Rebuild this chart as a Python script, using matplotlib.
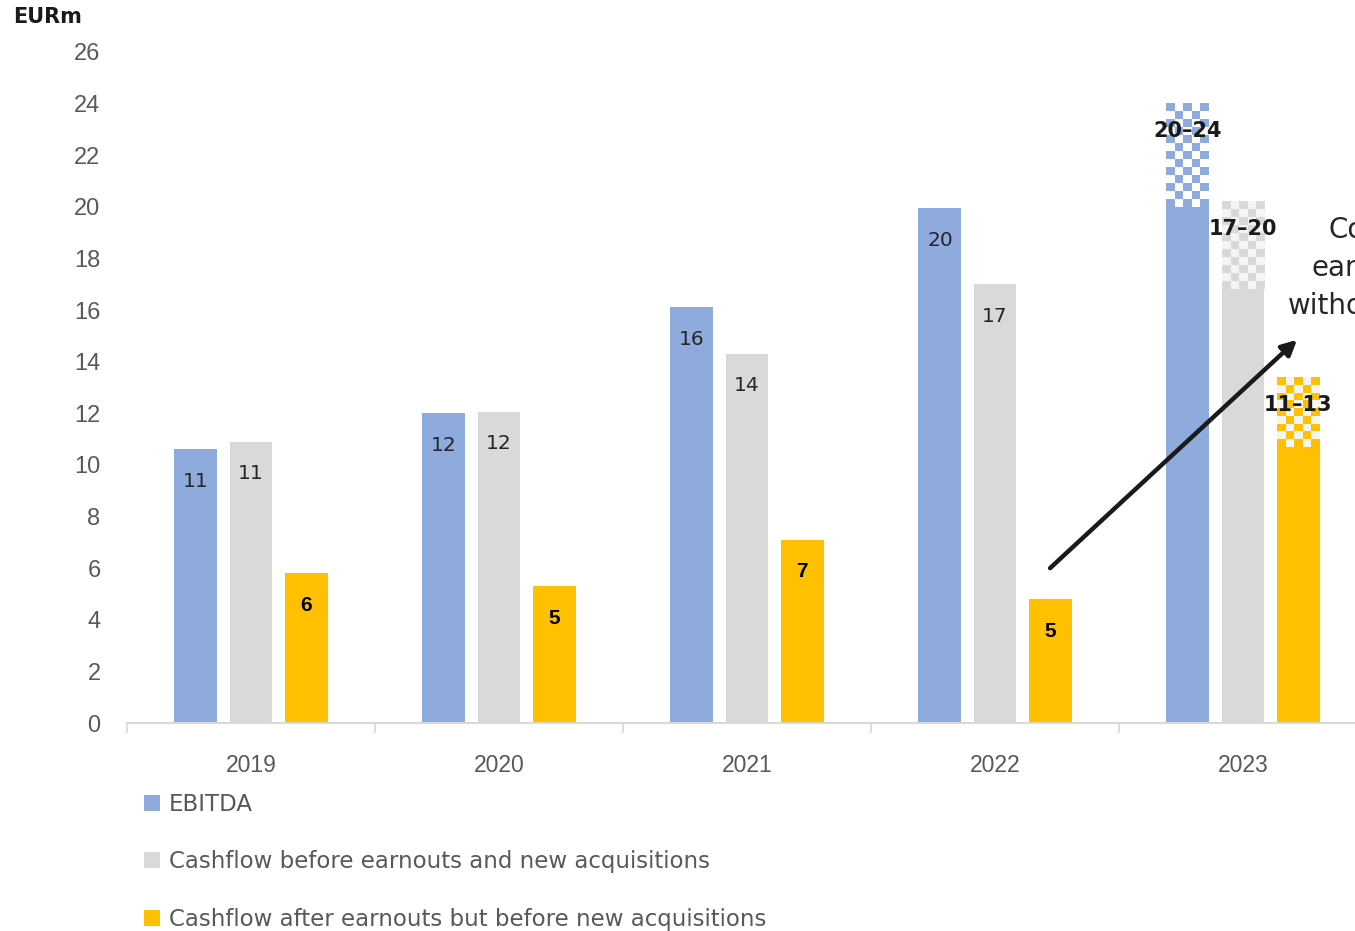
import numpy as np
import matplotlib.pyplot as plt
from matplotlib.colors import ListedColormap

years = ['2019', '2020', '2021', '2022', '2023']
series_names = ['EBITDA',
                'Cashflow before earnouts and new acquisitions',
                'Cashflow after earnouts but before new acquisitions']

# actuals 2019-2022, 2023 given as a range (low, high)
ebitda = [10.6, 12.0, 16.1, 19.95]
cf_before = [10.9, 12.05, 14.3, 17.0]
cf_after = [5.8, 5.3, 7.1, 4.8]
guidance_low = [20.0, 16.8, 10.7]
guidance_high = [24.0, 20.2, 13.4]

colors = ['#8faadc', '#d9d9d9', '#ffc000']
check_light = ['#ffffff', '#f4f4f4', '#f4f4f4']

plt.rcParams['font.family'] = ['DejaVu Sans']

fig = plt.figure(figsize=(13.55, 9.31), dpi=100)
ax = fig.add_axes([127 / 1355, 208 / 931, 1240 / 1355, 671 / 931])

width = 0.173
offsets = [-0.222, 0.0, 0.222]
x_hist = np.arange(len(ebitda))
handles = []

for i, vals in enumerate([ebitda, cf_before, cf_after]):
    xs = x_hist + offsets[i]
    bars = ax.bar(xs, vals, width, color=colors[i], label=series_names[i])
    handles.append(bars)
    for x, v in zip(xs, vals):
        if i == 2:
            ax.annotate(f'{v:.0f}', (x, v), xytext=(0, -23), textcoords='offset points',
                        ha='center', va='center', fontsize=15, fontweight='bold',
                        color='black', family=['Liberation Sans'])
        else:
            ax.annotate(f'{v:.0f}', (x, v), xytext=(0, -23), textcoords='offset points',
                        ha='center', va='center', fontsize=14.5, color='#262626')

# 2023 outlook: solid up to the low end, checkered band up to the high end
x23 = len(ebitda)
for i in range(3):
    xc = x23 + offsets[i]
    lo, hi = guidance_low[i], guidance_high[i]
    ax.bar(xc, lo, width, color=colors[i])
    ncols = 5
    nrows = int(round((hi - lo) / 0.31))
    board = (np.indices((nrows, ncols)).sum(axis=0) + 1) % 2
    ax.imshow(board, extent=(xc - width / 2, xc + width / 2, lo, hi), aspect='auto',
              interpolation='nearest', cmap=ListedColormap([check_light[i], colors[i]]),
              origin='upper', zorder=2)
    ax.annotate(f'{lo:.0f}\u2013{hi:.0f}', (xc, hi), xytext=(0, -20), textcoords='offset points',
                ha='center', va='center', fontsize=15, fontweight='bold', color='#1a1a1a',
                zorder=5)

ax.set_xlim(-0.5, 4.5)
ax.set_ylim(0, 26)
ax.set_yticks(range(0, 27, 2))
ax.set_xticks(range(len(years)))
ax.set_xticklabels(years)
ax.set_xticks(np.arange(-0.5, 4.6, 1.0), minor=True)
ax.tick_params(axis='x', which='major', length=0, pad=22, labelsize=16.5, labelcolor='#595959')
ax.tick_params(axis='x', which='minor', length=7, width=1.2, color='#d9d9d9')
ax.tick_params(axis='y', length=0, pad=19, labelsize=17, labelcolor='#595959')
for lab in ax.get_yticklabels() + ax.get_xticklabels():
    lab.set_family(['Liberation Sans'])
for s in ['top', 'right', 'left']:
    ax.spines[s].set_visible(False)
ax.spines['bottom'].set_color('#d9d9d9')
ax.spines['bottom'].set_linewidth(1.5)

fig.text(13 / 1355, 1 - 17 / 931, 'EURm', fontsize=15, fontweight='bold', color='#1a1a1a',
         va='center', ha='left')

# trend arrow into the outlook year
ax.annotate('', xy=(4.218, 14.85), xytext=(3.222, 6.0),
            arrowprops=dict(arrowstyle='-|>,head_length=0.9,head_width=0.45', color='#1a1a1a',
                            lw=3.2, shrinkA=0, shrinkB=0), zorder=6)

# side note, runs past the right edge
ax.text(4.343, 19.1, 'Continued', fontsize=20, color='#262626', va='center', ha='left', clip_on=False)
ax.text(4.278, 17.64, 'earnouts', fontsize=20, color='#262626', va='center', ha='left', clip_on=False)
ax.text(4.18, 16.16, 'without', fontsize=20, color='#262626', va='center', ha='left', clip_on=False)

fig.legend(handles=handles, labels=series_names, loc='upper left',
           bbox_to_anchor=(144 / 1355, 1 - 793 / 931), frameon=False, fontsize=16.5,
           handlelength=0.7, handleheight=0.7, handletextpad=0.4, labelspacing=1.5,
           borderpad=0, borderaxespad=0, labelcolor='#595959')

fig.savefig('out.png', dpi=100)
